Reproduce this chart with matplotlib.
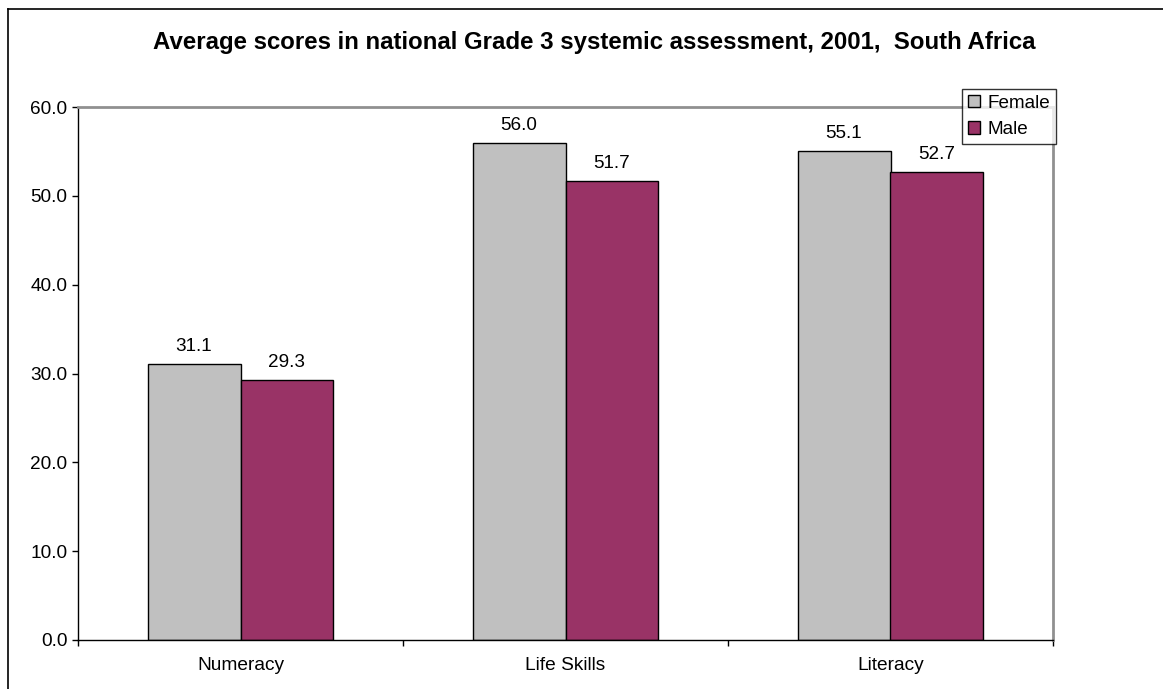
import numpy as np
import matplotlib.pyplot as plt
from matplotlib.lines import Line2D

plt.rcParams['font.family'] = ['Liberation Sans', 'DejaVu Sans']

# data
categories = ['Numeracy', 'Life Skills', 'Literacy']
female = [31.1, 56.0, 55.1]
male = [29.3, 51.7, 52.7]
series_names = ['Female', 'Male']
yticks = [0, 10, 20, 30, 40, 50, 60]

W, H = 1163, 689
fig = plt.figure(figsize=(W / 100, H / 100), dpi=100)
ax = fig.add_axes([78 / W, 1 - 640 / H, (1053 - 78) / W, (640 - 107) / H])

x = np.arange(len(categories))
bw = 0.286
b1 = ax.bar(x - bw / 2, female, bw, color='#C0C0C0', edgecolor='black', linewidth=1, label=series_names[0])
b2 = ax.bar(x + bw / 2, male, bw, color='#993366', edgecolor='black', linewidth=1, label=series_names[1])

# value labels above bars
for bars in (b1, b2):
    for r in bars:
        v = r.get_height()
        ax.annotate('{:.1f}'.format(v), (r.get_x() + r.get_width() / 2, v),
                    xytext=(0, 9), textcoords='offset points',
                    ha='center', va='baseline', fontsize=13.6)

ax.set_xlim(-0.5, len(categories) - 0.5)
ax.set_ylim(0, 60)
ax.set_yticks(yticks)
ax.set_yticklabels(['{:.1f}'.format(t) for t in yticks], fontsize=13.7)
ax.tick_params(axis='y', length=4.5, width=1, pad=3)

# category labels centred, tick marks between categories
ax.set_xticks(x)
ax.set_xticklabels(categories, fontsize=13.8)
ax.tick_params(axis='x', which='major', length=0, pad=12)
ax.set_xticks(np.arange(len(categories) + 1) - 0.5, minor=True)
ax.tick_params(axis='x', which='minor', length=4, width=1, direction='out')

for s in ('left', 'bottom'):
    ax.spines[s].set_color('black')
    ax.spines[s].set_linewidth(1)
for s in ('top', 'right'):
    ax.spines[s].set_color('#909090')
    ax.spines[s].set_linewidth(2)

leg = fig.legend(handles=[b1, b2], loc='upper left',
                 bbox_to_anchor=(962 / W, 1 - 89 / H), fontsize=13.6,
                 frameon=True, fancybox=False, shadow=False,
                 handlelength=0.65, handleheight=0.65, handletextpad=0.4,
                 borderpad=0.3, labelspacing=0.5, borderaxespad=0)
leg.get_frame().set_edgecolor('black')
leg.get_frame().set_linewidth(1)

fig.text(594 / W, 1 - 43 / H,
         'Average scores in national Grade 3 systemic assessment, 2001,  South Africa',
         ha='center', va='center', fontsize=17.3, fontweight='bold')

# outer chart border (left and top visible)
fig.add_artist(Line2D([7.5 / W, 7.5 / W], [0, 1 - 9 / H], transform=fig.transFigure, color='black', lw=1.2))
fig.add_artist(Line2D([7.5 / W, 1], [1 - 9 / H, 1 - 9 / H], transform=fig.transFigure, color='black', lw=1.2))

fig.savefig('out.png', dpi=100)
